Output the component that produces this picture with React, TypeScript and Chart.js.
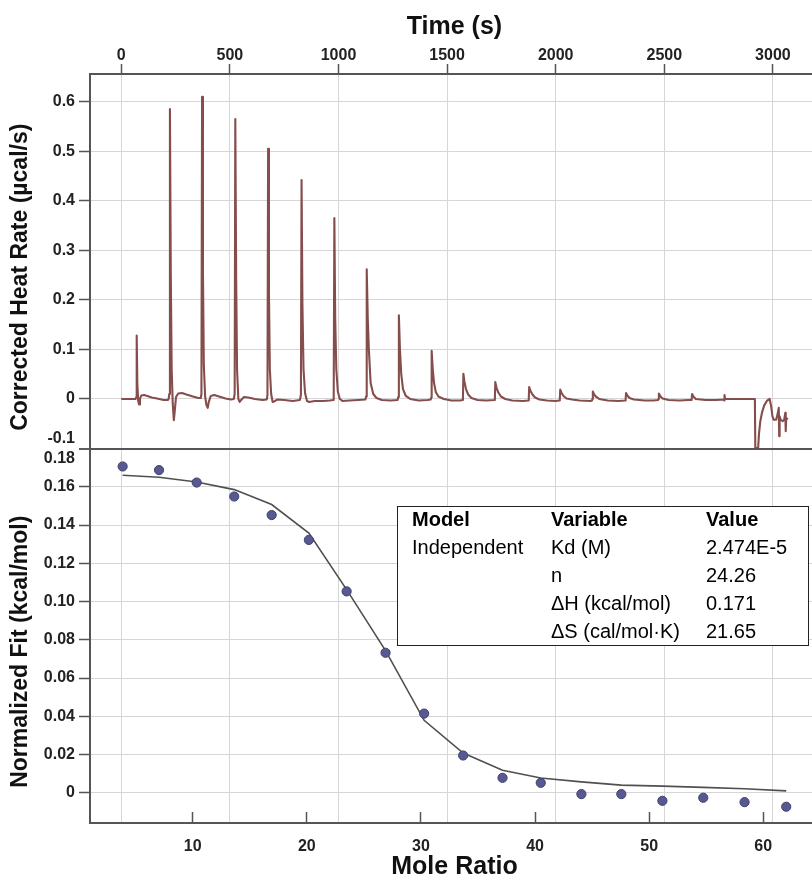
import React, { useEffect, useRef } from 'react';
import { Chart, registerables } from 'chart.js';

Chart.register(...registerables);

const FONT = "'Liberation Sans', Arial, Helvetica, sans-serif";

// ---------- axes ----------
const TIME_TICKS = [0, 500, 1000, 1500, 2000, 2500, 3000];
const TIME_MIN = -144;
const TIME_MAX = 3180;

const MOLE_TICKS = [10, 20, 30, 40, 50, 60];
const MOLE_MIN = 1.0;
const MOLE_MAX = 64.27;

const HEAT_TICKS = [-0.1, 0, 0.1, 0.2, 0.3, 0.4, 0.5, 0.6];
const HEAT_TICK_LABELS = ['-0.1', '0', '0.1', '0.2', '0.3', '0.4', '0.5', '0.6'];
const HEAT_MIN = -0.1;
const HEAT_MAX = 0.656;

const FIT_TICKS = [0, 0.02, 0.04, 0.06, 0.08, 0.1, 0.12, 0.14, 0.16, 0.18];
const FIT_TICK_LABELS = ['0', '0.02', '0.04', '0.06', '0.08', '0.10', '0.12', '0.14', '0.16', '0.18'];
const FIT_MIN = -0.0158;
const FIT_MAX = 0.18;

// ---------- thermogram (time s, corrected heat rate µcal/s) ----------
const THERMO_TIME = [
  0, 40, 66, 69, 71, 74, 78, 82, 86, 92, 105, 120, 140, 165, 195, 214,
  218, 221, 224, 228, 232, 237, 242, 246, 252, 262, 280, 300, 330, 355,
  366, 369, 372, 376, 380, 386, 392, 398, 403, 412, 428, 450, 480, 505,
  518, 522, 525, 529, 533, 539, 545, 552, 565, 585, 615, 650,
  670, 673, 676, 680, 684, 690, 697, 704, 720, 750, 790,
  822, 827, 830, 834, 839, 846, 855, 865, 890, 930, 960,
  975, 978, 981, 985, 990, 997, 1006, 1018, 1050, 1090,
  1124, 1127, 1130, 1135, 1140, 1148, 1160, 1175, 1200, 1240,
  1272, 1275, 1278, 1283, 1289, 1297, 1310, 1330, 1370, 1410,
  1425, 1427, 1429, 1434, 1440, 1448, 1460, 1485, 1520, 1560,
  1571, 1573, 1575, 1580, 1587, 1597, 1612, 1640, 1680,
  1717, 1720, 1722, 1728, 1736, 1748, 1768, 1800, 1850,
  1874, 1876, 1878, 1884, 1893, 1905, 1925, 1960, 2000,
  2017, 2019, 2021, 2027, 2036, 2050, 2075, 2110, 2160,
  2167, 2169, 2171, 2177, 2187, 2200, 2240, 2290,
  2320, 2322, 2324, 2330, 2340, 2360, 2410, 2450,
  2471, 2473, 2475, 2481, 2492, 2520, 2570, 2610,
  2624, 2626, 2628, 2634, 2645, 2690, 2740,
  2773, 2775, 2777, 2780, 2800, 2850, 2900, 2917,
  2919, 2932, 2936, 2942, 2950, 2960, 2972, 2985, 2992, 2998, 3004,
  3015, 3022, 3027, 3029, 3031, 3036, 3045, 3052, 3057, 3059, 3061, 3068,
];
const THERMO_RATE = [
  0, 0, 0, 0.004, 0.128, 0.03, -0.004, -0.011, 0.0, 0.007, 0.008, 0.006, 0.003, 0.001, -0.002, -0.002,
  0.0, 0.01, 0.585, 0.25, 0.06, -0.01, -0.043, -0.025, 0.004, 0.011, 0.012, 0.009, 0.005, 0.002,
  0.002, 0.01, 0.61, 0.26, 0.07, 0.005, -0.012, -0.018, -0.006, 0.006, 0.008, 0.005, 0.001, -0.001,
  0.0, 0.01, 0.565, 0.24, 0.06, 0.0, -0.006, -0.002, 0.004, 0.003, 0.0, -0.002,
  -0.001, 0.008, 0.505, 0.21, 0.06, 0.01, -0.006, -0.005, -0.001, -0.002, -0.004,
  -0.002, 0.008, 0.442, 0.19, 0.06, 0.012, -0.004, -0.006, -0.004, -0.004, -0.003,
  -0.002, 0.006, 0.365, 0.16, 0.06, 0.015, 0.0, -0.004, -0.003, -0.002,
  -0.001, 0.005, 0.262, 0.16, 0.099, 0.032, 0.01, 0.002, -0.002, -0.003,
  -0.002, 0.004, 0.169, 0.1, 0.05, 0.02, 0.006, 0.0, -0.003, -0.002,
  -0.001, 0.003, 0.097, 0.06, 0.032, 0.014, 0.005, 0.0, -0.003, -0.003,
  -0.002, 0.002, 0.051, 0.035, 0.02, 0.009, 0.002, -0.002, -0.003,
  -0.002, 0.002, 0.034, 0.022, 0.013, 0.005, 0.0, -0.003, -0.004,
  -0.003, 0.001, 0.024, 0.016, 0.009, 0.003, -0.001, -0.003, -0.004,
  -0.003, 0.001, 0.019, 0.012, 0.006, 0.001, -0.001, -0.003, -0.004,
  -0.003, 0.0, 0.015, 0.009, 0.004, 0.0, -0.003, -0.004,
  -0.003, 0.0, 0.012, 0.007, 0.002, -0.001, -0.003, -0.003,
  -0.002, 0.0, 0.011, 0.006, 0.001, -0.002, -0.003, -0.002,
  -0.002, 0.0, 0.01, 0.005, 0.0, -0.002, -0.002,
  -0.001, -0.003, 0.008, 0.0, 0.0, 0.0, 0.0, 0.0,
  -0.099, -0.099, -0.07, -0.045, -0.027, -0.013, -0.004, 0.0, -0.015, -0.035, -0.042,
  -0.042, -0.03, -0.018, -0.075, -0.035, -0.042, -0.045, -0.042, -0.028, -0.065, -0.042, -0.038,
];

// ---------- binding isotherm ----------
const MOLE_RATIO = [3.86, 7.05, 10.35, 13.64, 16.92, 20.18, 23.49, 26.9, 30.28, 33.7, 37.15, 40.5, 44.06, 47.56, 51.16, 54.74, 58.36, 62.01];
const NORMALIZED_HEAT = [0.1706, 0.1687, 0.1622, 0.1549, 0.1452, 0.1322, 0.1053, 0.0732, 0.0414, 0.0195, 0.0078, 0.0052, -0.0007, -0.0007, -0.0042, -0.0026, -0.0049, -0.0073];
const FIT_CURVE = [0.166, 0.165, 0.1625, 0.1585, 0.1507, 0.1358, 0.1062, 0.0743, 0.0379, 0.0208, 0.0118, 0.0077, 0.0057, 0.004, 0.0035, 0.0028, 0.0021, 0.001];

// ---------- results table ----------
const TABLE_HEADER = ['Model', 'Variable', 'Value'];
const TABLE_ROWS = [
  ['Independent', 'Kd (M)', '2.474E-5'],
  ['', 'n', '24.26'],
  ['', 'ΔH (kcal/mol)', '0.171'],
  ['', 'ΔS (cal/mol·K)', '21.65'],
];

const DARK = '#555555';
const GRID = '#d6d6d6';

export default function App() {
  const ref = useRef<HTMLCanvasElement>(null);

  useEffect(() => {
    const canvas = ref.current;
    if (!canvas) return;
    const tickFont = { family: FONT, size: 16, weight: 'bold' as const };
    const titleFont = { family: FONT, size: 25, weight: 'bold' as const };
    const yTitleFont = { family: FONT, size: 23, weight: 'bold' as const };
    const chart = new Chart(canvas, {
      type: 'line',
      data: {
        datasets: [
          {
            label: 'Corrected Heat Rate',
            data: THERMO_TIME.map((t, i) => ({ x: t, y: THERMO_RATE[i] })),
            xAxisID: 'xTime',
            yAxisID: 'yHeat',
            borderColor: '#864d4d',
            borderWidth: 2.1,
            pointRadius: 0,
            tension: 0,
            borderJoinStyle: 'round',
            order: 2,
          },
          {
            label: 'Fit',
            data: MOLE_RATIO.map((m, i) => ({ x: m, y: FIT_CURVE[i] })),
            xAxisID: 'xMole',
            yAxisID: 'yFit',
            borderColor: '#505050',
            borderWidth: 1.6,
            pointRadius: 0,
            tension: 0,
            order: 1,
          },
          {
            label: 'Data',
            data: MOLE_RATIO.map((m, i) => ({ x: m, y: NORMALIZED_HEAT[i] })),
            xAxisID: 'xMole',
            yAxisID: 'yFit',
            showLine: false,
            pointRadius: 4.6,
            pointBackgroundColor: '#585892',
            pointBorderColor: '#40406e',
            pointBorderWidth: 1,
            order: 0,
          },
        ],
      },
      options: {
        responsive: false,
        animation: false,
        devicePixelRatio: 1,
        layout: { padding: 0, autoPadding: false },
        plugins: { legend: { display: false }, tooltip: { enabled: false } },
        scales: {
          xTime: {
            type: 'linear',
            position: 'top',
            min: TIME_MIN,
            max: TIME_MAX,
            afterBuildTicks: (s: any) => { s.ticks = TIME_TICKS.map((v) => ({ value: v })); },
            afterFit: (s: any) => { s.height = 74; },
            ticks: {
              callback: (_v: any, i: number) => String(TIME_TICKS[i]),
              font: tickFont, color: '#222', padding: -1, maxRotation: 0, autoSkip: false,
            },
            grid: { color: GRID, lineWidth: 1, drawTicks: true, tickLength: 10, tickColor: DARK, tickWidth: 1.5 },
            border: { display: true, color: DARK, width: 2 },
            title: { display: true, text: ' Time (s)', font: titleFont, color: '#111', padding: { top: 12, bottom: 0 } },
          },
          xMole: {
            type: 'linear',
            position: 'bottom',
            min: MOLE_MIN,
            max: MOLE_MAX,
            afterBuildTicks: (s: any) => { s.ticks = MOLE_TICKS.map((v) => ({ value: v })); },
            afterFit: (s: any) => { s.height = 56; },
            ticks: {
              callback: (_v: any, i: number) => String(MOLE_TICKS[i]),
              font: tickFont, color: '#222', padding: 25, maxRotation: 0, autoSkip: false,
            },
            grid: { drawOnChartArea: false, drawTicks: true, tickLength: -11, tickColor: DARK, tickWidth: 1.5, color: DARK },
            border: { display: true, color: DARK, width: 2 },
            title: { display: true, text: ' Mole Ratio', font: titleFont, color: '#111', padding: { top: 0, bottom: -3 } },
          },
          yFit: {
            type: 'linear',
            position: 'left',
            stack: 'panels',
            stackWeight: 1,
            weight: 0,
            min: FIT_MIN,
            max: FIT_MAX,
            afterBuildTicks: (s: any) => { s.ticks = FIT_TICKS.map((v) => ({ value: v })); },
            afterFit: (s: any) => { s.width = 90; },
            ticks: {
              callback: (_v: any, i: number) => (i === FIT_TICKS.length - 1 ? ['', FIT_TICK_LABELS[i]] : FIT_TICK_LABELS[i]),
              font: tickFont, color: '#222', padding: 4, autoSkip: false,
            },
            grid: {
              color: (c: any) => (c.index === FIT_TICKS.length - 1 ? DARK : GRID),
              lineWidth: (c: any) => (c.index === FIT_TICKS.length - 1 ? 2 : 1),
              drawTicks: true, tickLength: 11, tickColor: DARK, tickWidth: 1.5,
            },
            border: { display: true, color: DARK, width: 2 },
            title: { display: true, text: 'Normalized Fit (kcal/mol)     ', font: yTitleFont, color: '#111', padding: { top: 7, bottom: 0 } },
          },
          yHeat: {
            type: 'linear',
            position: 'left',
            stack: 'panels',
            stackWeight: 1,
            weight: 1,
            min: HEAT_MIN,
            max: HEAT_MAX,
            afterBuildTicks: (s: any) => { s.ticks = HEAT_TICKS.map((v) => ({ value: v })); },
            afterFit: (s: any) => { s.width = 90; },
            ticks: {
              callback: (_v: any, i: number) => (i === 0 ? [HEAT_TICK_LABELS[i], ''] : HEAT_TICK_LABELS[i]),
              font: tickFont, color: '#222', padding: 4, autoSkip: false,
            },
            grid: {
              color: (c: any) => (c.index === 0 ? DARK : GRID),
              lineWidth: (c: any) => (c.index === 0 ? 2 : 1),
              drawTicks: true, tickLength: 11, tickColor: DARK, tickWidth: 1.5,
            },
            border: { display: true, color: DARK, width: 2 },
            title: { display: true, text: 'Corrected Heat Rate (µcal/s)     ', font: yTitleFont, color: '#111', padding: { top: 7, bottom: 0 } },
          },
        },
      } as any,
    });
    return () => chart.destroy();
  }, []);

  const colX = [14, 153, 308];
  const rowTop = -2;
  const rowH = 28;

  return (
    <div style={{ position: 'absolute', left: 0, top: 0, width: 812, height: 879, background: '#fff', overflow: 'hidden' }}>
      <canvas ref={ref} width={812} height={879} style={{ display: 'block', width: 812, height: 879 }} />
      <div
        style={{
          position: 'absolute', left: 397, top: 506, width: 410, height: 138,
          border: '1.5px solid #222', background: '#fff',
          fontFamily: FONT, fontSize: 20, color: '#000',
        }}
      >
        {[TABLE_HEADER, ...TABLE_ROWS].map((row, r) =>
          row.map((cell, c) => (
            <div
              key={`${r}-${c}`}
              style={{
                position: 'absolute', left: colX[c], top: rowTop + r * rowH,
                lineHeight: `${rowH}px`, whiteSpace: 'nowrap',
                fontWeight: r === 0 ? 'bold' : 'normal',
              }}
            >
              {cell}
            </div>
          ))
        )}
      </div>
    </div>
  );
}
